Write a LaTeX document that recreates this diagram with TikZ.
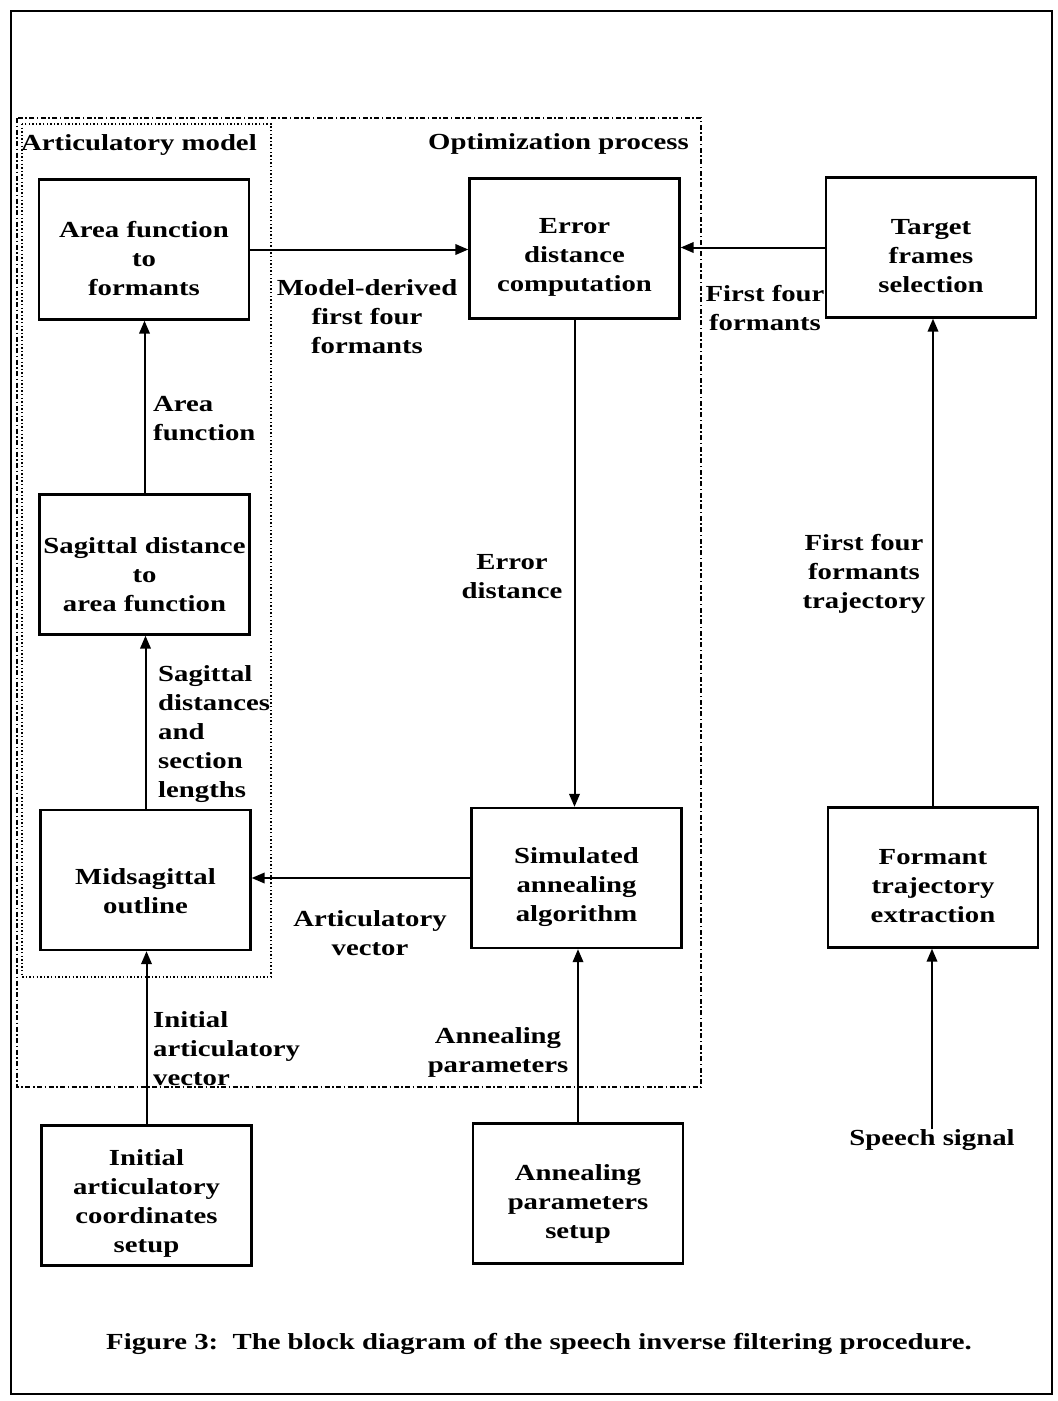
\documentclass[tikz,border=0pt]{standalone}
\usepackage{fontspec}
\setmainfont[FakeStretch=1.25]{Liberation Serif}
\usetikzlibrary{arrows.meta}
\newcommand\tstrut[1]{\rule{0pt}{#1pt}}
\begin{document}
\begin{tikzpicture}[x=1pt,y=-1pt,
  font=\fontsize{23}{29}\selectfont\bfseries,
  blk/.style={draw,line width=2.3pt,align=center,inner sep=0pt,minimum width=210pt,minimum height=140pt},
  lbl/.style={align=center,inner sep=0pt},
  arr/.style={line width=2pt,-{Triangle[length=13pt,width=10.5pt]}},
  dashdot/.style={line width=1.3pt,dash pattern=on 5pt off 2.5pt on 1.5pt off 2.5pt},
  dotline/.style={line width=1.4pt,dash pattern=on 1.4pt off 2.2pt},
]
\useasboundingbox (0,0) rectangle (1058,1401);
\draw[line width=2.6pt] (11,11) rectangle (1052,1394);
% group frames
\draw[dashdot] (17,118) rectangle (701,1087);
\draw[dotline] (22,124) rectangle (271,977);
\node[lbl,anchor=west] (tam) at (21,145) {Articulatory model};
\node[lbl,anchor=east] (top) at (689,144) {Optimization process};
% blocks
\node[blk] (aff) at (144,249.5) {\tstrut{34}Area function\\to\\formants};
\node[blk] (edc) at (574.5,248.5) {\tstrut{33}Error\\distance\\computation};
\node[blk] (tfs) at (931,247.5) {\tstrut{33}Target\\frames\\selection};
\node[blk] (sag) at (144.5,564.5) {\tstrut{36}Sagittal distance\\to\\area function};
\node[blk] (mid) at (145.5,880) {\tstrut{39}Midsagittal\\outline};
\node[blk] (sim) at (576.5,878) {\tstrut{35}Simulated\\annealing\\algorithm};
\node[blk] (fte) at (933,877.5) {\tstrut{33}Formant\\trajectory\\extraction};
\node[blk] (ini) at (146.5,1195.5) {\tstrut{32}Initial\\articulatory\\coordinates\\setup};
\node[blk] (aps) at (578,1193.5) {\tstrut{37}Annealing\\parameters\\setup};
\node[lbl] (sps) at (932,1140) {Speech signal};
% arrows
\draw[arr] (aff.east) -- (aff.east -| edc.west);
\draw[arr] (tfs.west) -- (tfs.west -| edc.east);
\draw[arr] (edc.south) -- (edc.south |- sim.north);
\draw[arr] (sag.north) -- (sag.north |- aff.south);
\draw[arr] (mid.north) -- (mid.north |- sag.south);
\draw[arr] (sim.west) -- (sim.west -| mid.east);
\draw[arr] (ini.north) -- (ini.north |- mid.south);
\draw[arr] (aps.north) -- (aps.north |- sim.south);
\draw[arr] (sps.north) -- (sps.north |- fte.south);
\draw[arr] (fte.north) -- (fte.north |- tfs.south);
% connector labels
\node[lbl] (lmd) at (367,317) {Model-derived\\first four\\formants};
\node[lbl] (lff) at (765,308) {First four\\formants};
\node[lbl,anchor=west,align=left] (laf) at (153,419) {Area\\function};
\node[lbl] (led) at (512,577) {Error\\distance};
\node[lbl] (lft) at (864,574) {First four\\formants\\trajectory};
\node[lbl,anchor=west,align=left] (lsd) at (158,734) {Sagittal\\distances\\and\\section\\lengths};
\node[lbl] (lav) at (370,933) {Articulatory\\vector};
\node[lbl,anchor=west,align=left] (liv) at (153,1049) {Initial\\articulatory\\vector};
\node[lbl] (lap) at (498,1052) {Annealing\\parameters};
% caption
\node[lbl] (cap) at (539,1344) {Figure 3:\ \ The block diagram of the speech inverse filtering procedure.};
\end{tikzpicture}
\end{document}
